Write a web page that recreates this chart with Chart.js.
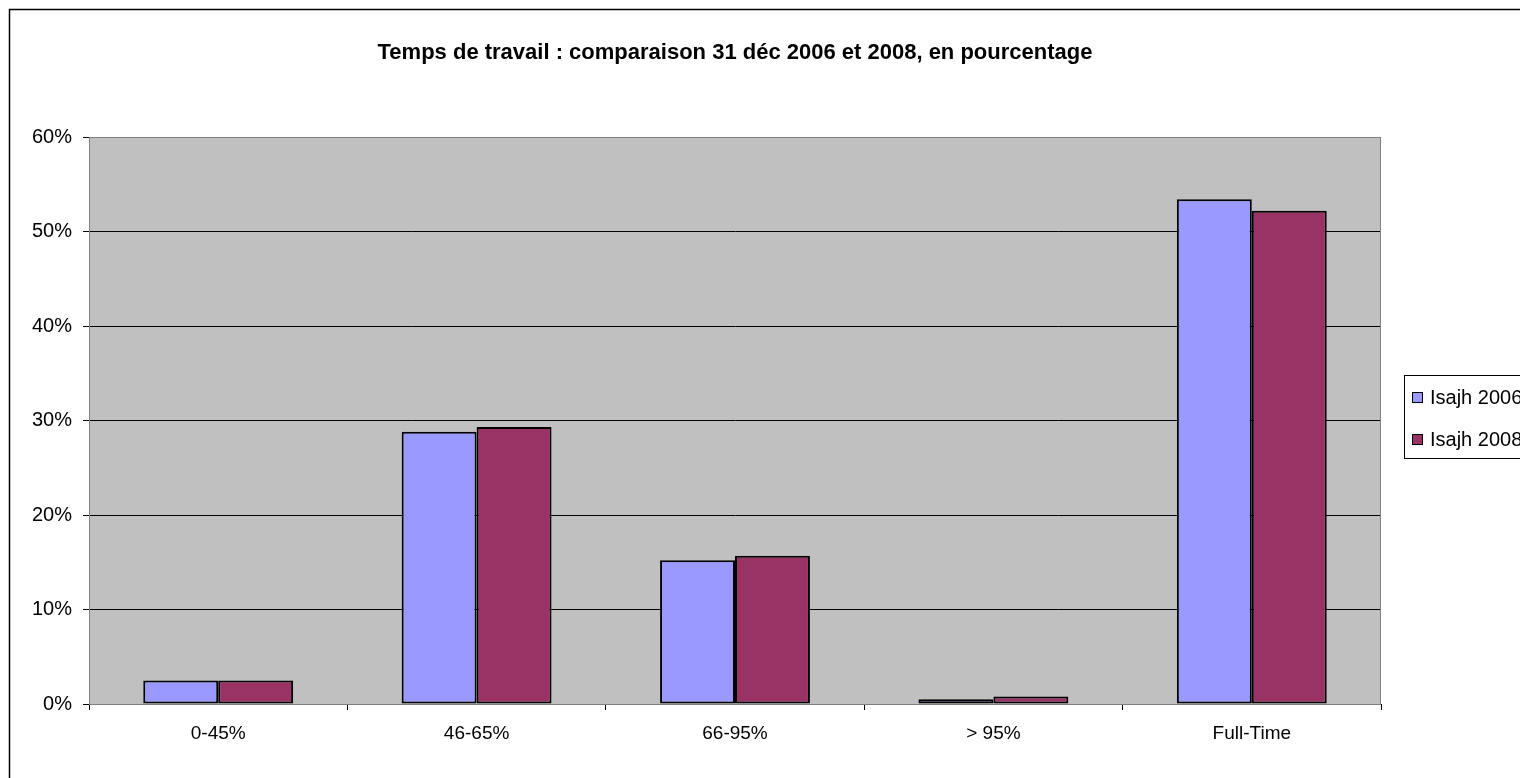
<!DOCTYPE html>
<html>
<head>
<meta charset="utf-8">
<title>Temps de travail</title>
<script src="https://cdn.jsdelivr.net/npm/chart.js@4.4.1/dist/chart.umd.min.js"></script>
<style>
    html, body { margin: 0; padding: 0; background: #fff; overflow: hidden; }
    #wrap { position: relative; width: 1520px; height: 778px; }
</style>
</head>
<body>
<div id="wrap"><canvas id="chart" width="1520" height="778"></canvas></div>
<script>
// chart data
var categories = ['0-45%', '46-65%', '66-95%', '> 95%', 'Full-Time'];
var seriesNames = ['Isajh 2006', 'Isajh 2008'];
var values2006 = [2.5, 28.8, 15.2, 0.5, 53.4];
var values2008 = [2.5, 29.3, 15.7, 0.8, 52.2];
var yTicks = [0, 10, 20, 30, 40, 50, 60];
var titleText = 'Temps de travail : comparaison 31 déc 2006 et 2008, en pourcentage';

(function() {
    'use strict';

    var FONT = '"Liberation Sans", Arial, sans-serif';

    // frame, plot background, title and legend
    var excelLook = {
        id: 'excelLook',
        beforeDraw: function(chart) {
            var ctx = chart.ctx;
            var a = chart.chartArea;
            ctx.save();
            ctx.fillStyle = '#C0C0C0';
            ctx.fillRect(a.left, a.top, a.right - a.left, a.bottom - a.top);
            ctx.restore();
        },
        afterDraw: function(chart) {
            var ctx = chart.ctx;
            var a = chart.chartArea;
            ctx.save();
            // plot border
            ctx.strokeStyle = '#808080';
            ctx.lineWidth = 1;
            ctx.strokeRect(a.left + 0.5, a.top + 0.5, a.right - a.left - 1, a.bottom - a.top);

            // outer frame (right and bottom outside the picture)
            ctx.strokeStyle = '#000';
            ctx.lineWidth = 1.5;
            ctx.strokeRect(9.5, 9.5, 1600, 800);

            // title
            ctx.fillStyle = '#000';
            ctx.font = 'bold 22px ' + FONT;
            ctx.textAlign = 'center';
            ctx.textBaseline = 'middle';
            ctx.fillText(titleText, 735, 53);

            // legend
            var lx = 1404, ly = 375;
            ctx.fillStyle = '#fff';
            ctx.fillRect(lx, ly, 140, 83);
            ctx.strokeStyle = '#000';
            ctx.lineWidth = 1;
            ctx.strokeRect(lx + 0.5, ly + 0.5, 140, 83);
            ctx.font = '20px ' + FONT;
            ctx.textAlign = 'left';
            chart.data.datasets.forEach(function(ds, i) {
                var cy = ly + 22 + i * 42;
                ctx.fillStyle = ds.backgroundColor;
                ctx.fillRect(lx + 8, cy - 5, 11, 11);
                ctx.strokeStyle = '#000';
                ctx.strokeRect(lx + 8.5, cy - 4.5, 10, 10);
                ctx.fillStyle = '#000';
                ctx.fillText(ds.label, lx + 26, cy + 1);
            });
            ctx.restore();
        }
    };

    function initChart() {
        var canvas = document.getElementById('chart');
        if (!canvas) {
            return;
        }
        var ctx = canvas.getContext('2d');

        new Chart(ctx, {
            type: 'bar',
            data: {
                labels: categories,
                datasets: [{
                    label: seriesNames[0],
                    data: values2006,
                    backgroundColor: '#9999FF',
                    borderColor: '#000',
                    borderWidth: 2,
                    borderSkipped: false
                }, {
                    label: seriesNames[1],
                    data: values2008,
                    backgroundColor: '#993366',
                    borderColor: '#000',
                    borderWidth: 2,
                    borderSkipped: false
                }]
            },
            options: {
                responsive: false,
                animation: false,
                devicePixelRatio: 1,
                categoryPercentage: 0.58,
                barPercentage: 1.0,
                layout: {
                    padding: { top: 137, left: 0, right: 139, bottom: 0 }
                },
                plugins: {
                    legend: { display: false },
                    title: { display: false },
                    tooltip: { enabled: false }
                },
                scales: {
                    x: {
                        afterFit: function(scale) { scale.height = 74; },
                        grid: {
                            offset: true,
                            drawOnChartArea: false,
                            color: '#000',
                            tickLength: 6
                        },
                        border: { color: '#000', width: 1 },
                        ticks: {
                            color: '#000',
                            padding: 12,
                            font: { family: FONT, size: 19 }
                        }
                    },
                    y: {
                        min: 0,
                        max: 60,
                        afterFit: function(scale) { scale.width = 89; },
                        afterBuildTicks: function(scale) {
                            scale.ticks = yTicks.map(function(v) { return { value: v }; });
                        },
                        grid: {
                            color: '#000',
                            tickLength: 6
                        },
                        border: { color: '#000', width: 1 },
                        ticks: {
                            color: '#000',
                            padding: 11,
                            font: { family: FONT, size: 20 },
                            callback: function(v) { return v + '%'; }
                        }
                    }
                }
            },
            plugins: [excelLook]
        });
    }

    if (document.readyState === 'loading') {
        document.addEventListener('DOMContentLoaded', initChart);
    } else {
        initChart();
    }
})();
</script>
</body>
</html>
